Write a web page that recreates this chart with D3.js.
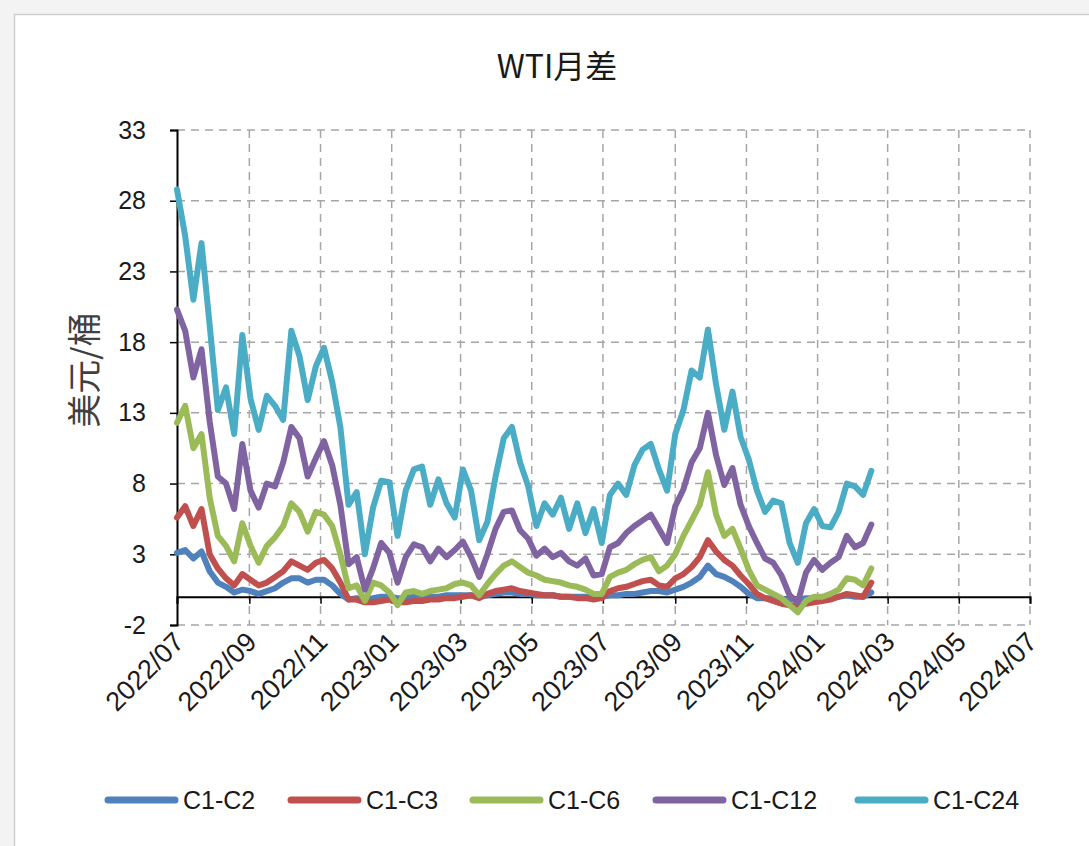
<!DOCTYPE html>
<html>
<head>
<meta charset="utf-8">
<script src="https://cdn.jsdelivr.net/npm/d3@7"></script>
<style>
    body { margin: 0; background: #f3f3f3; }
    text { font-family: "Liberation Sans", Arial, sans-serif; fill: #1a1a1a; }
    .cjk { font-family: "Noto Sans CJK SC", "Liberation Sans", sans-serif; }
</style>
</head>
<body>
<svg width="1089" height="846"></svg>
<script>
const title = "WTI月差";
const yLabel = "美元/桶";
const seriesNames = ["C1-C2", "C1-C3", "C1-C6", "C1-C12", "C1-C24"];
const seriesColors = ["#4f81bd", "#c0504d", "#9bbb59", "#8064a2", "#4bacc6"];
const yTicks = [-2, 3, 8, 13, 18, 23, 28, 33];
const startDate = new Date(2022, 6, 1);
const endDate = new Date(2024, 6, 1);

// weekly readings from 2022/07/01
const c2 = [3.1,3.3,2.7,3.2,1.8,1,0.7,0.3,0.5,0.4,0.2,0.4,0.6,1,1.3,1.3,1,1.2,1.2,0.8,0.2,-0.2,-0.1,-0.2,-0.1,0,0,-0.1,-0.1,0,0,0,0,0.1,0.1,0.1,0.1,0,0.1,0.2,0.3,0.3,0.2,0.2,0.1,0.1,0.1,0,0,0,0,-0.1,0,0.1,0.1,0.2,0.2,0.3,0.4,0.4,0.3,0.5,0.7,1,1.4,2.2,1.6,1.4,1.1,0.7,0.2,-0.1,-0.1,-0.1,-0.2,-0.2,-0.2,-0.1,-0.1,-0.1,-0.1,0,0.1,0,0,0.3];
const c3 = [5.6,6.4,5,6.2,3,2,1.3,0.8,1.6,1.2,0.8,1,1.4,1.8,2.5,2.2,1.9,2.4,2.6,2,1,-0.2,-0.2,-0.4,-0.4,-0.3,-0.2,-0.4,-0.4,-0.3,-0.3,-0.2,-0.2,-0.1,-0.1,0,0.1,-0.1,0.2,0.4,0.5,0.6,0.4,0.3,0.2,0.1,0.1,0,0,-0.1,-0.1,-0.2,-0.1,0.4,0.6,0.7,0.9,1.1,1.2,0.8,0.7,1.3,1.6,2.1,2.8,4,3.2,2.6,2.2,1.5,0.9,0.2,-0.1,-0.3,-0.5,-0.6,-0.7,-0.5,-0.4,-0.3,-0.2,0,0.2,0.1,0,1];
const c6 = [12.3,13.5,10.5,11.5,7,4.3,3.6,2.5,5.2,3.6,2.4,3.6,4.2,5,6.6,6,4.6,6,5.8,5,3,0.6,0.8,-0.3,1,0.8,0.3,-0.6,0.3,0.4,0.2,0.4,0.5,0.6,0.9,1,0.8,0.1,0.9,1.6,2.2,2.5,2.1,1.7,1.5,1.2,1.1,1,0.8,0.7,0.5,0.2,0.2,1.4,1.7,1.9,2.3,2.6,2.8,1.8,2.2,3,4.3,5.4,6.5,8.8,5.8,4.3,4.8,3.4,1.9,0.8,0.5,0.2,-0.1,-0.6,-1.1,-0.3,0,0,0.2,0.5,1.3,1.2,0.8,2];
const c12 = [20.3,18.8,15.5,17.5,12.4,8.5,8,6.2,10.8,7.5,6.3,8,7.8,9.5,12,11.2,8.5,9.8,11,9.3,6.5,2.3,2.8,0.5,2,3.8,3.1,1,2.8,3.7,3.5,2.5,3.4,2.8,3.3,3.9,2.8,1.4,3,4.8,6,6.1,4.7,4.1,2.9,3.4,2.8,3.1,2.5,2.2,2.7,1.5,1.6,3.5,3.8,4.5,5,5.4,5.8,4.8,3.8,6.4,7.6,9.5,10.5,13,10,7.9,9.1,6.5,5,3.8,2.7,2.4,1.5,0.1,-0.4,1.7,2.6,1.9,2.4,2.8,4.3,3.5,3.8,5.1];
const c24 = [28.8,25.5,21,25,19.2,13.2,14.8,11.5,18.5,14,11.8,14.2,13.5,12.5,18.8,17,13.9,16.3,17.6,15.2,12,6.5,7.4,3,6.3,8.2,8.1,4.3,7.5,9,9.2,6.5,8.3,6.6,5.6,9,7.5,4,5.3,8.5,11.2,12,9.5,7.8,5,6.6,5.8,7,4.8,6.6,4.5,6.2,3.8,7.2,8,7.2,9.3,10.4,10.8,9,7.5,11.5,13.2,16,15.5,18.9,15,11.8,14.5,11.3,9.7,7.5,6,6.8,6.6,3.8,2.4,5.2,6.2,5,4.9,6,8,7.8,7.2,8.9];

const allSeries = [c2, c3, c6, c12, c24];
const dates = c2.map((_, i) => d3.timeDay.offset(startDate, i * 7));

const svg = d3.select("svg");
const L = 177, R = 1030, T = 130, B = 625;

svg.append("rect")
    .attr("x", 14.5).attr("y", 14.5)
    .attr("width", 1100).attr("height", 900)
    .attr("fill", "white")
    .attr("stroke", "#cfcfcf")
    .attr("stroke-width", 1.5);

const x = d3.scaleTime().domain([startDate, endDate]).range([L, R]);
const y = d3.scaleLinear().domain([-2, 33]).range([B, T]);
const xTicks = d3.timeMonth.every(2).range(startDate, d3.timeDay.offset(endDate, 1));

// grid
svg.append("g")
    .selectAll("line")
    .data(yTicks)
    .join("line")
    .attr("x1", L).attr("x2", R)
    .attr("y1", d => y(d)).attr("y2", d => y(d))
    .attr("stroke", "#a6a6a6")
    .attr("stroke-width", 1.5)
    .attr("stroke-dasharray", "8,6");

svg.append("g")
    .selectAll("line")
    .data(xTicks.slice(1))
    .join("line")
    .attr("x1", d => x(d)).attr("x2", d => x(d))
    .attr("y1", T).attr("y2", B)
    .attr("stroke", "#a6a6a6")
    .attr("stroke-width", 1.5)
    .attr("stroke-dasharray", "8,6");

// y axis
const yAxis = svg.append("g")
    .attr("transform", `translate(${L},0)`)
    .call(d3.axisLeft(y).tickValues(yTicks).tickSize(7).tickPadding(24).tickFormat(d => String(d)));
yAxis.select(".domain").attr("stroke", "#000").attr("stroke-width", 2);
yAxis.selectAll(".tick line").attr("stroke", "#000").attr("stroke-width", 1.5);
yAxis.selectAll(".tick text")
    .style("font-family", "'Liberation Sans', Arial, sans-serif")
    .style("font-size", "25px")
    .attr("fill", "#1a1a1a");

// x axis on the zero line
const xAxis = svg.append("g")
    .attr("transform", `translate(0,${y(0)})`)
    .call(d3.axisBottom(x).tickValues(xTicks).tickSize(7).tickFormat(""));
xAxis.select(".domain").attr("stroke", "#000").attr("stroke-width", 2);
xAxis.selectAll(".tick line").attr("stroke", "#000").attr("stroke-width", 1.5);

svg.append("g")
    .selectAll("text")
    .data(xTicks)
    .join("text")
    .attr("transform", d => `translate(${x(d) + 2},${B + 12}) rotate(-45)`)
    .attr("text-anchor", "end")
    .attr("dy", "0.35em")
    .style("font-size", "27px")
    .text(d3.timeFormat("%Y/%m"));

// series
const line = d3.line()
    .x((d, i) => x(dates[i]))
    .y(d => y(d));

svg.append("g")
    .selectAll("path")
    .data(allSeries)
    .join("path")
    .attr("d", d => line(d))
    .attr("fill", "none")
    .attr("stroke", (d, i) => seriesColors[i])
    .attr("stroke-width", 6)
    .attr("stroke-linejoin", "round")
    .attr("stroke-linecap", "round");

// title and y label
svg.append("text")
    .attr("class", "cjk")
    .attr("x", 557).attr("y", 78)
    .attr("text-anchor", "middle")
    .style("font-size", "32px")
    .text(title);

svg.append("text")
    .attr("class", "cjk")
    .attr("transform", "translate(97,370) rotate(-90)")
    .attr("text-anchor", "middle")
    .style("font-size", "34px")
    .style("fill", "#404040")
    .text(yLabel);

// legend
const legendX = [105, 288, 470, 653, 855];
const legend = svg.append("g")
    .selectAll("g")
    .data(seriesNames)
    .join("g")
    .attr("transform", (d, i) => `translate(${legendX[i]},800)`);

legend.append("line")
    .attr("x1", 3).attr("x2", 70)
    .attr("stroke", (d, i) => seriesColors[i])
    .attr("stroke-width", 7)
    .attr("stroke-linecap", "round");

legend.append("text")
    .attr("x", 78)
    .attr("dy", "0.35em")
    .style("font-size", "25px")
    .text(d => d);
</script>
</body>
</html>
